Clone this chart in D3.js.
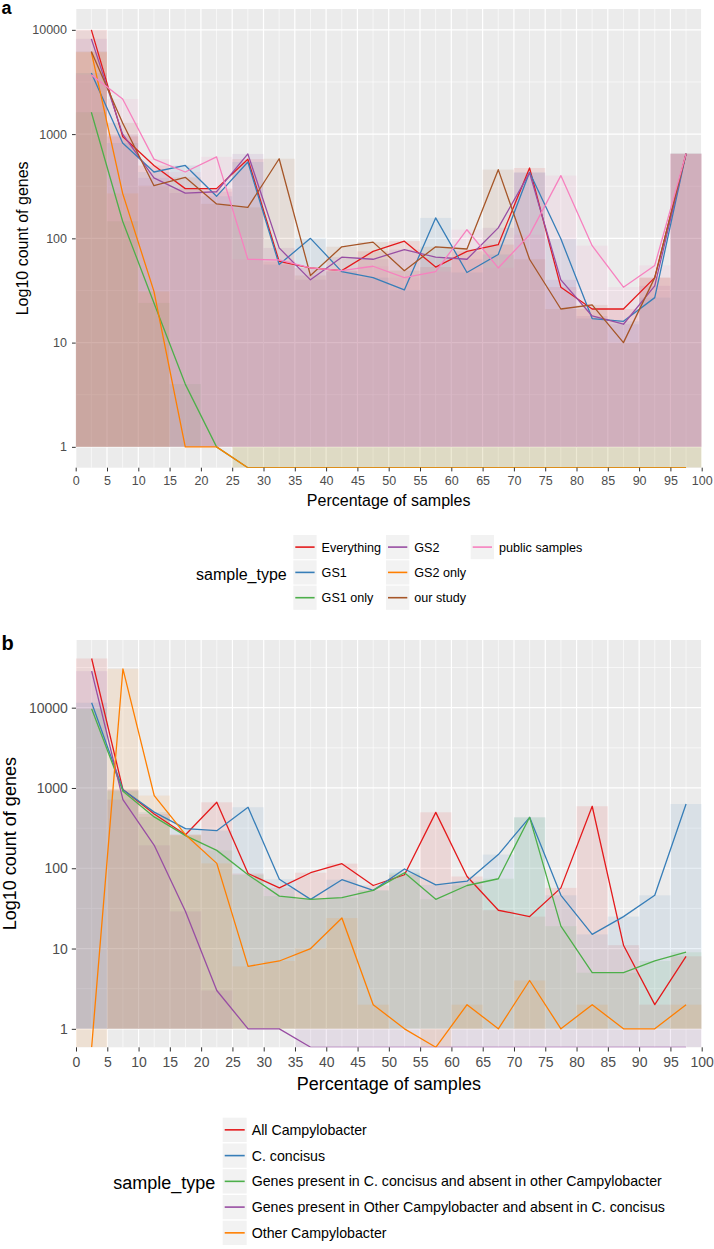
<!DOCTYPE html>
<html>
<head>
<meta charset="utf-8">
<script src="https://cdn.jsdelivr.net/npm/d3@7"></script>
<style>
  body { margin: 0; background: #fff; }
  svg { display: block; font-family: "Liberation Sans", Arial, Helvetica, sans-serif; }
</style>
</head>
<body>
<svg id="chart" width="714" height="1249"></svg>
<script>
// bins of 5 % (left edges), axis ticks
const binStarts = [0, 5, 10, 15, 20, 25, 30, 35, 40, 45, 50, 55, 60, 65, 70, 75, 80, 85, 90, 95];
const xTicks = [0, 5, 10, 15, 20, 25, 30, 35, 40, 45, 50, 55, 60, 65, 70, 75, 80, 85, 90, 95, 100];
const xMinor = [2.5, 7.5, 12.5, 17.5, 22.5, 27.5, 32.5, 37.5, 42.5, 47.5, 52.5, 57.5, 62.5, 67.5, 72.5, 77.5, 82.5, 87.5, 92.5, 97.5];
const yTicks = [1, 10, 100, 1000, 10000];
const yMinor = [3.162, 31.62, 316.2, 3162, 31623];

// panel a : gene counts per bin (0 = no genes)
const everything    = [10000, 950, 500, 300, 300, 575, 60, 52, 49, 75, 94, 53, 75, 87, 473, 34, 21, 21, 42, 645];
const gs1           = [3850, 820, 433, 500, 253, 540, 56, 100, 48, 42, 32, 157, 47, 70, 430, 99, 17, 16, 27, 650];
const gs1Only       = [1620, 146, 24, 4, 1, 0, 0, 0, 0, 0, 0, 0, 0, 0, 0, 0, 0, 0, 0, 0];
const gs2           = [8200, 1000, 380, 272, 280, 645, 81, 40, 66, 63, 78, 66, 63, 126, 425, 40, 18, 15, 35, 650];
const gs2Only       = [6100, 270, 31, 1, 1, 0, 0, 0, 0, 0, 0, 0, 0, 0, 0, 0, 0, 0, 0, 0];
const ourStudy      = [6200, 1280, 320, 385, 214, 198, 580, 44, 83, 92, 49, 83, 79, 456, 63, 21, 23, 10, 42, 650];
const publicSamples = [3700, 2170, 575, 433, 605, 63, 62, 52, 49, 54, 42, 48, 121, 52, 108, 400, 85, 34, 55, 650];

// panel b
const allCampy        = [41000, 955, 475, 262, 663, 86, 57, 88, 114, 61, 83, 497, 79, 30, 25, 57, 592, 11, 2, 8];
const cConcisus       = [11500, 950, 500, 312, 294, 575, 73, 41, 72, 53, 98, 62, 69, 148, 431, 46, 15, 25, 46, 632];
const onlyConcisus    = [9700, 910, 436, 255, 167, 83, 45, 41, 43, 53, 88, 41, 61, 74, 431, 19, 5, 5, 7, 9];
const onlyOtherCampy  = [28500, 717, 193, 29, 3, 1, 1, 0, 0, 0, 0, 0, 0, 0, 0, 0, 0, 0, 0, 0];
const otherCampy      = [0, 30500, 804, 262, 115, 6, 7, 10, 24, 2, 1, 0, 2, 1, 4, 1, 2, 1, 1, 2];

const seriesA = [
  { name: "Everything", color: "#E41A1C", values: everything },
  { name: "GS1", color: "#377EB8", values: gs1 },
  { name: "GS1 only", color: "#4DAF4A", values: gs1Only },
  { name: "GS2", color: "#984EA3", values: gs2 },
  { name: "GS2 only", color: "#FF7F00", values: gs2Only },
  { name: "our study", color: "#A65628", values: ourStudy },
  { name: "public samples", color: "#F781BF", values: publicSamples }
];
const seriesB = [
  { name: "All Campylobacter", color: "#E41A1C", values: allCampy },
  { name: "C. concisus", color: "#377EB8", values: cConcisus },
  { name: "Genes present in C. concisus and absent in other Campylobacter", color: "#4DAF4A", values: onlyConcisus },
  { name: "Genes present in Other Campylobacter and absent in C. concisus", color: "#984EA3", values: onlyOtherCampy },
  { name: "Other Campylobacter", color: "#FF7F00", values: otherCampy }
];

const svg = d3.select("#chart");

function drawPanel(p) {
  const g = svg.append("g");
  const x = d3.scaleLinear().domain([0, 100]).range([p.left, p.right]);
  const y = d3.scaleLog().domain(p.yDomain).range([p.bottom, p.top]);
  // zero counts sit on the panel edge (like -Inf in ggplot)
  const yPos = v => v > 0 ? y(v) : p.bottom;

  g.append("rect")
    .attr("x", p.left).attr("y", p.top)
    .attr("width", p.right - p.left).attr("height", p.bottom - p.top)
    .attr("fill", "#EBEBEB");

  // grid
  g.selectAll(".xminor").data(xMinor).join("line")
    .attr("x1", d => x(d)).attr("x2", d => x(d))
    .attr("y1", p.top).attr("y2", p.bottom)
    .attr("stroke", "#fff").attr("stroke-width", 0.6);
  g.selectAll(".yminor").data(yMinor.filter(d => d > p.yDomain[0] && d < p.yDomain[1])).join("line")
    .attr("x1", p.left).attr("x2", p.right)
    .attr("y1", d => y(d)).attr("y2", d => y(d))
    .attr("stroke", "#fff").attr("stroke-width", 0.6);
  g.selectAll(".xmajor").data(xTicks).join("line")
    .attr("x1", d => x(d)).attr("x2", d => x(d))
    .attr("y1", p.top).attr("y2", p.bottom)
    .attr("stroke", "#fff").attr("stroke-width", 1.2);
  g.selectAll(".ymajor").data(yTicks).join("line")
    .attr("x1", p.left).attr("x2", p.right)
    .attr("y1", d => y(d)).attr("y2", d => y(d))
    .attr("stroke", "#fff").attr("stroke-width", 1.2);

  const clipId = "clip" + p.label;
  svg.append("clipPath").attr("id", clipId).append("rect")
    .attr("x", p.left).attr("y", p.top)
    .attr("width", p.right - p.left).attr("height", p.bottom - p.top);
  const plot = g.append("g").attr("clip-path", `url(#${clipId})`);

  // histogram bars, from 1 upward (or downward to the edge for empty bins)
  p.series.forEach(s => {
    plot.append("g").selectAll("rect")
      .data(s.values.map((v, i) => ({ v: v, x0: binStarts[i] })))
      .join("rect")
      .attr("x", d => x(d.x0))
      .attr("width", d => x(d.x0 + 5) - x(d.x0))
      .attr("y", d => d.v >= 1 ? y(d.v) : y(1))
      .attr("height", d => d.v >= 1 ? y(1) - y(d.v) : p.bottom - y(1))
      .attr("fill", s.color)
      .attr("fill-opacity", 0.1);
  });

  const line = d3.line()
    .x((v, i) => x(binStarts[i] + 2.5))
    .y(v => yPos(v));
  p.series.forEach(s => {
    plot.append("path")
      .datum(s.values)
      .attr("d", line)
      .attr("fill", "none")
      .attr("stroke", s.color)
      .attr("stroke-width", 1.3)
      .attr("stroke-linejoin", "round");
  });

  // axes
  const xAxis = g.append("g")
    .attr("transform", `translate(0,${p.bottom})`)
    .call(d3.axisBottom(x).tickValues(xTicks).tickFormat(d3.format("d"))
      .tickSize(p.tickLen).tickPadding(p.xPad));
  const yAxis = g.append("g")
    .attr("transform", `translate(${p.left},0)`)
    .call(d3.axisLeft(y).tickValues(yTicks).tickFormat(d3.format("d"))
      .tickSize(p.tickLen).tickPadding(p.yPad));
  [xAxis, yAxis].forEach(a => {
    a.select(".domain").remove();
    a.selectAll(".tick line").attr("stroke", "#333333").attr("stroke-width", 1);
    a.selectAll(".tick text").attr("fill", "#4D4D4D")
      .style("font-size", p.tickFont + "px")
      .style("font-family", "Liberation Sans, Arial, sans-serif");
  });

  g.append("text")
    .attr("x", (p.left + p.right) / 2).attr("y", p.xTitleY)
    .attr("dy", "0.35em")
    .attr("text-anchor", "middle")
    .style("font-size", p.titleFont + "px")
    .text("Percentage of samples");
  g.append("text")
    .attr("transform", `translate(${p.yTitleX},${(p.top + p.bottom) / 2}) rotate(-90)`)
    .attr("dy", "0.35em")
    .attr("text-anchor", "middle")
    .style("font-size", p.titleFont + "px")
    .text("Log10 count of genes");

  g.append("text")
    .attr("x", 1.5).attr("y", p.labelY)
    .style("font-size", p.labelFont + "px")
    .style("font-weight", "bold")
    .text(p.label);

  // legend
  const lg = g.append("g");
  lg.append("text")
    .attr("x", p.legend.titleX).attr("y", p.legend.titleY)
    .attr("dy", "0.35em")
    .style("font-size", p.titleFont + "px")
    .text("sample_type");
  p.series.forEach((s, i) => {
    const col = Math.floor(i / p.legend.rows);
    const row = i % p.legend.rows;
    const kx = p.legend.colX[col];
    const ky = p.legend.top + row * p.legend.pitch;
    lg.append("rect")
      .attr("x", kx).attr("y", ky)
      .attr("width", p.legend.keyW).attr("height", p.legend.keyH)
      .attr("fill", "#F2F2F2");
    lg.append("line")
      .attr("x1", kx + 2).attr("x2", kx + p.legend.keyW - 2)
      .attr("y1", ky + p.legend.keyH / 2).attr("y2", ky + p.legend.keyH / 2)
      .attr("stroke", s.color).attr("stroke-width", 1.6);
    lg.append("text")
      .attr("x", kx + p.legend.keyW + 5).attr("y", ky + p.legend.keyH / 2)
      .attr("dy", "0.35em")
      .style("font-size", p.legendFont + "px")
      .text(s.name);
  });
}

drawPanel({
  label: "a", series: seriesA,
  left: 75.7, right: 701.7, top: 9, bottom: 467.7,
  yDomain: [Math.pow(10, -0.2), Math.pow(10, 4.2)],
  tickLen: 3.7, xPad: 4.5, yPad: 5, tickFont: 12.5, titleFont: 16, legendFont: 12.6,
  xTitleY: 500, yTitleX: 22.5, labelY: 13.5, labelFont: 18,
  legend: { titleX: 196, titleY: 574, colX: [293.3, 386, 470.7], rows: 3, top: 535, pitch: 25.3, keyW: 23.3, keyH: 24.2 }
});

drawPanel({
  label: "b", series: seriesB,
  left: 76, right: 701.7, top: 640, bottom: 1047.3,
  yDomain: [Math.pow(10, -0.23), Math.pow(10, 4.843)],
  tickLen: 4.2, xPad: 5.3, yPad: 4, tickFont: 14, titleFont: 18, legendFont: 14.2,
  xTitleY: 1083.3, yTitleX: 10, labelY: 650, labelFont: 20,
  legend: { titleX: 113.3, titleY: 1182.3, colX: [222.7], rows: 5, top: 1117.7, pitch: 25.75, keyW: 24, keyH: 24.3 }
});
</script>
</body>
</html>
